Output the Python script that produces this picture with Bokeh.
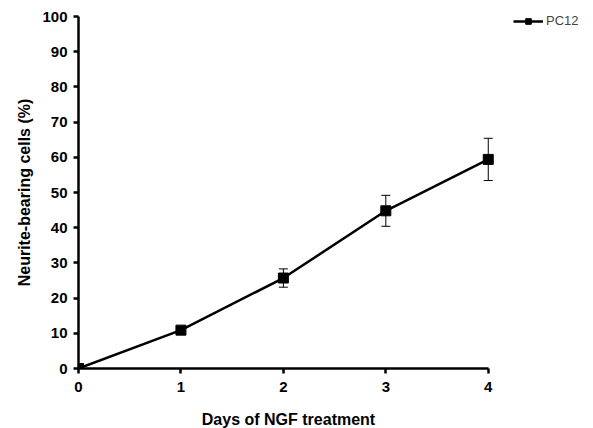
from bokeh.plotting import figure
from bokeh.models import Range1d, Legend, LegendItem, Whisker, ColumnDataSource, FixedTicker, TeeHead
from bokeh.embed import file_html
from bokeh.resources import INLINE

days = [0, 1, 2, 3, 4]
pc12 = [0, 10.9, 25.7, 44.8, 59.4]
pc12_err = [0, 0.8, 2.6, 4.4, 6.0]
x_ticks = [0, 1, 2, 3, 4]
y_ticks = [0, 10, 20, 30, 40, 50, 60, 70, 80, 90, 100]

src = ColumnDataSource(dict(
    x=days, y=pc12,
    lower=[v - e for v, e in zip(pc12, pc12_err)],
    upper=[v + e for v, e in zip(pc12, pc12_err)],
))

FONT = "Liberation Sans"

p = figure(frame_width=420, frame_height=352, output_backend="svg", toolbar_location=None,
           x_range=Range1d(0, 4.1), y_range=Range1d(0, 100),
           min_border_left=78, min_border_right=87, min_border_top=16, min_border_bottom=56)
p.outline_line_color = None
p.grid.visible = False
p.background_fill_color = "white"
p.border_fill_color = "white"

for ax in (p.xaxis[0], p.yaxis[0]):
    ax.axis_line_width = 2.5
    ax.axis_line_color = "black"
    ax.major_tick_line_width = 2.5
    ax.major_tick_line_color = "black"
    ax.major_tick_in = 0
    ax.major_tick_out = 5
    ax.minor_tick_line_color = None
    ax.major_label_text_font = FONT
    ax.major_label_text_font_style = "bold"
    ax.major_label_text_font_size = "15px"
    ax.major_label_text_color = "black"
    ax.axis_label_text_font = FONT
    ax.axis_label_text_font_style = "bold"
    ax.axis_label_text_font_size = "16px"
    ax.axis_label_text_color = "black"

p.xaxis.bounds = (0, 4)
p.xaxis.ticker = FixedTicker(ticks=x_ticks)
p.yaxis.ticker = FixedTicker(ticks=y_ticks)
p.xaxis.axis_label = "Days of NGF treatment"
p.yaxis.axis_label = "Neurite-bearing cells (%)"
p.xaxis.major_label_standoff = 8
p.yaxis.major_label_standoff = 6
p.xaxis.axis_label_standoff = 16
p.yaxis.axis_label_standoff = 6

wh = Whisker(source=src, base="x", lower="lower", upper="upper", line_color="black", line_width=1,
             upper_head=TeeHead(size=9, line_color="black", line_width=1),
             lower_head=TeeHead(size=9, line_color="black", line_width=1))
p.add_layout(wh)

ln = p.line("x", "y", source=src, line_color="black", line_width=2.5)
sq = p.scatter("x", "y", source=src, marker="square", size=10, fill_color="black", line_color="black")

legend = Legend(items=[LegendItem(label="PC12", renderers=[ln, sq])], location="top_left",
                border_line_alpha=0, background_fill_alpha=0, padding=0, margin=0,
                glyph_width=30, glyph_height=14, label_standoff=3, label_text_font=FONT,
                label_text_font_size="13px", label_height=14)
p.add_layout(legend, "right")
legend.location = (15, 340)

open("out.html", "w").write(file_html(p, INLINE))
